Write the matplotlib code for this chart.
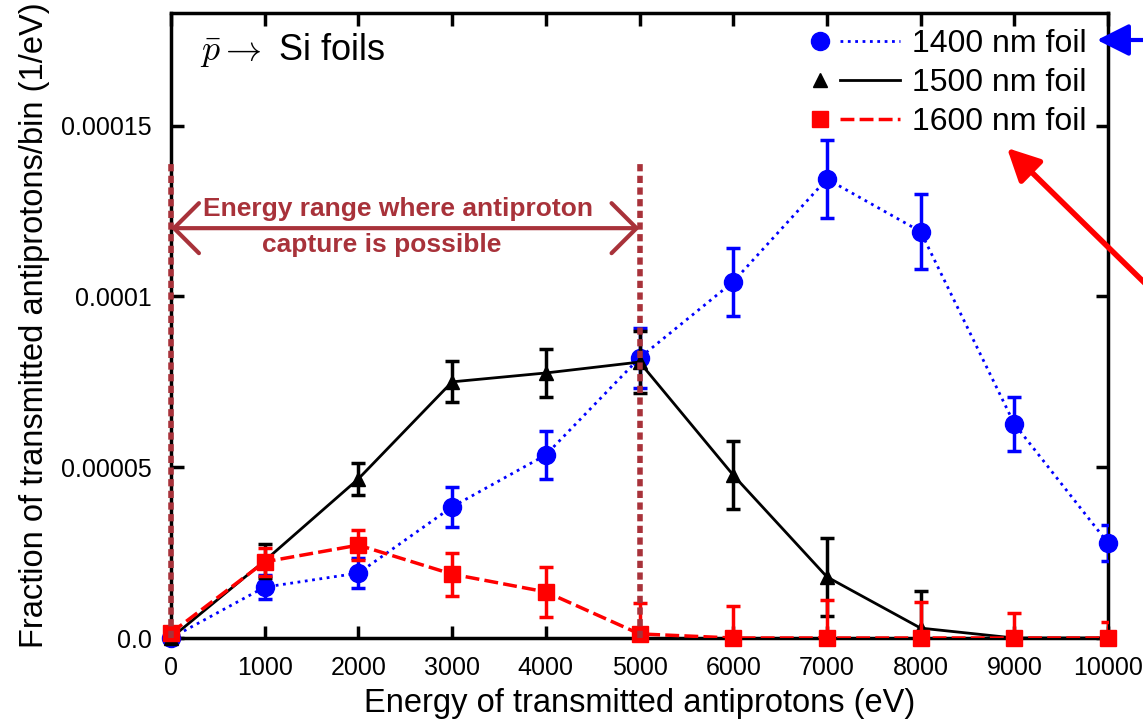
import numpy as np
import matplotlib
matplotlib.use("Agg")
import matplotlib.pyplot as plt
from matplotlib.lines import Line2D
from matplotlib.legend_handler import HandlerTuple
from matplotlib.ticker import FixedLocator, FixedFormatter

plt.rcParams['font.family'] = ['Liberation Sans', 'DejaVu Sans']
plt.rcParams['mathtext.fontset'] = 'cm'

# energies (eV)
energy = [0, 1000, 2000, 3000, 4000, 5000, 6000, 7000, 8000, 9000, 10000]

# 1400 nm foil
y1400 = [0.0, 1.49e-5, 1.90e-5, 3.84e-5, 5.36e-5, 8.20e-5, 1.043e-4, 1.344e-4, 1.19e-4, 6.27e-5, 2.78e-5]
e1400 = [0.0, 3.6e-6, 4.4e-6, 5.9e-6, 7.0e-6, 8.8e-6, 1.0e-5, 1.15e-5, 1.1e-5, 8.0e-6, 5.3e-6]

# 1500 nm foil
y1500 = [0.0, 2.26e-5, 4.66e-5, 7.50e-5, 7.76e-5, 8.08e-5, 4.77e-5, 1.79e-5, 2.9e-6, 0.0, 0.0]
e1500 = [0.0, 5.0e-6, 4.7e-6, 6.0e-6, 7.0e-6, 9.0e-6, 1.0e-5, 1.15e-5, 1.1e-5, 0.0, 0.0]

# 1600 nm foil
y1600 = [1.5e-6, 2.23e-5, 2.72e-5, 1.87e-5, 1.35e-5, 1.2e-6, 0.0, 0.0, 0.0, 0.0, 0.0]
e1600 = [0.0, 4.0e-6, 4.5e-6, 6.3e-6, 7.3e-6, 9.0e-6, 9.4e-6, 1.1e-5, 1.05e-5, 7.3e-6, 4.7e-6]

yticks = [0.0, 0.00005, 0.0001, 0.00015]
ytick_labels = ["0.0", "0.00005", "0.0001", "0.00015"]
xticks = energy
xtick_labels = [str(v) for v in energy]

brown = '#A8323A'

fig = plt.figure(figsize=(11.43, 7.26), dpi=100)
ax = fig.add_axes([0.1496, 0.1212, 0.8198, 0.8609])

series = [
    (y1400, e1400, '#0000FF', ':', 2, 'o', 13, {}, 3),
    (y1500, e1500, 'black', '-', 2, '^', 10, {}, 4),
    (y1600, e1600, '#FF0000', '--', 2.5, 's', 12, {'dashes': (4, 1.5)}, 5),
]
for y, e, c, ls, lw, m, ms, kw, z in series:
    ax.errorbar(energy, y, yerr=e, color=c, ls='none', elinewidth=2.5, capsize=5,
                capthick=2.5, zorder=z)
    ax.plot(energy, y, color=c, ls=ls, lw=lw, zorder=z, **kw)
    ax.plot(energy, y, color=c, ls='none', marker=m, ms=ms, zorder=z, clip_on=False)

# capture energy range
for xv in [0, 5000]:
    ax.plot([xv, xv], [0, 1.39e-4], color=brown, lw=4, ls=(0, (1.3, 0.8)), zorder=6, clip_on=False)
ax.annotate('', xy=(0, 1.2e-4), xytext=(5000, 1.2e-4),
            arrowprops=dict(arrowstyle='<->,head_length=0.6,head_width=0.6', color=brown,
                            lw=3, mutation_scale=30, shrinkA=0, shrinkB=0), zorder=6)
ax.text(2420, 1.257e-4, 'Energy range where antiproton', color=brown, fontsize=19,
        fontweight='bold', ha='center', va='center')
ax.text(2250, 1.152e-4, 'capture is possible', color=brown, fontsize=19,
        fontweight='bold', ha='center', va='center')

ax.text(0.031, 0.94, r'$\bar{p} \rightarrow$ Si foils', transform=ax.transAxes,
        fontsize=26, va='center', ha='left')

ax.set_xlim(0, 10000)
ax.set_ylim(0, 0.000183)
ax.xaxis.set_major_locator(FixedLocator(xticks))
ax.xaxis.set_major_formatter(FixedFormatter(xtick_labels))
ax.yaxis.set_major_locator(FixedLocator(yticks))
ax.yaxis.set_major_formatter(FixedFormatter(ytick_labels))
ax.tick_params(direction='in', length=9, width=2.5, labelsize=18, top=True, right=True)
ax.tick_params(axis='x', pad=13)
ax.tick_params(axis='y', pad=14)
for s in ax.spines.values():
    s.set_linewidth(2.5)

ax.set_xlabel('Energy of transmitted antiprotons (eV)', fontsize=23.5, labelpad=6)
ax.set_ylabel('Fraction of transmitted antiprotons/bin (1/eV)', fontsize=23.5, labelpad=8)

# legend: marker, then line sample
h1 = (Line2D([], [], color='#0000FF', marker='o', ms=13, ls='none'),
      Line2D([], [], color='#0000FF', ls=':', lw=2))
h2 = (Line2D([], [], color='black', marker='^', ms=10, ls='none'),
      Line2D([], [], color='black', ls='-', lw=2))
h3 = (Line2D([], [], color='#FF0000', marker='s', ms=12, ls='none'),
      Line2D([], [], color='#FF0000', ls='--', lw=2.5, dashes=(4, 1.5)))
leg = ax.legend([h1, h2, h3], ['1400 nm foil', '1500 nm foil', '1600 nm foil'],
                handler_map={tuple: HandlerTuple(ndivide=None, pad=-0.3)},
                loc='upper right', bbox_to_anchor=(0.998, 1.005), frameon=False,
                fontsize=23, handlelength=3.44, handletextpad=0.4, labelspacing=0.28,
                borderaxespad=0.2)

# pointer arrows from outside the plot
ax.annotate('', xy=(1097, 686), xycoords='figure pixels', xytext=(1160, 686),
            textcoords='figure pixels',
            arrowprops=dict(arrowstyle='-|>,head_length=0.7,head_width=0.35', color='#0000FF',
                            lw=3, mutation_scale=28, shrinkA=0, shrinkB=0))
ax.annotate('', xy=(1007, 578), xycoords='figure pixels', xytext=(1160, 428),
            textcoords='figure pixels',
            arrowprops=dict(arrowstyle='-|>,head_length=0.7,head_width=0.35', color='#FF0000',
                            lw=4, mutation_scale=28, shrinkA=0, shrinkB=0))

fig.savefig('out.png', dpi=100)
